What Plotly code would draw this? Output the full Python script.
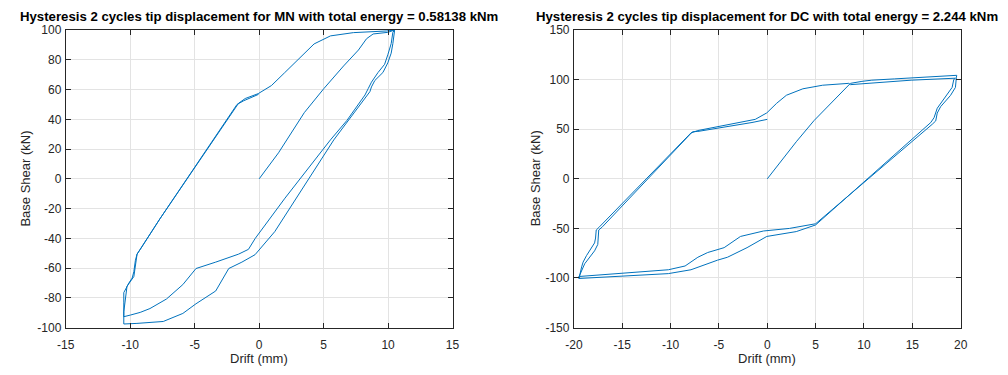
import plotly.graph_objects as go

# ---------------- MN specimen (left) ----------------
mn_drift = [
    # initial loading
    0.0, 1.5, 3.5, 5.02, 6.55, 7.7, 8.33, 8.84, 9.98, 10.5,
    # first unloading (outer right branch + outer bottom)
    10.5, 10.37, 10.24, 9.98, 9.6, 8.97, 8.71, 8.59, 5.79, 1.21, -0.32, -1.34, -2.36,
    -3.37, -4.9, -5.92, -7.44, -9.48, -10.5,
    # reloading (left branch A + upper curve)
    -10.5, -10.5, -10.1, -9.85, -9.72, -9.6, -9.47, -7.7, -1.6, -1.08, -0.07, 0.95,
    1.97, 3.24, 4.26, 5.53, 7.31, 9.86, 10.5,
    # second unloading (inner right branch + inner bottom)
    10.37, 10.24, 9.98, 9.73, 9.22, 8.71, 8.46, 8.21, 6.8, 5.53, 2.0, -0.3, -0.83,
    -1.59, -3.37, -4.9, -5.92, -7.19, -8.47, -9.23, -9.99, -10.5,
    # second reloading (left branch B), ends near zero drift
    -10.5, -10.25, -9.72, -9.6, -9.47, -9.22, -7.7, -1.72, -1.2, -0.05,
]
mn_shear = [
    0.0, 17.5, 44.5, 60.7, 75.9, 86.6, 94.2, 97.4, 98.5, 100.0,
    99.5, 90.9, 84.5, 78.0, 71.5, 66.1, 61.8, 58.6, 26.2, -35.5, -51.0, -56.0, -60.3,
    -75.4, -84.0, -90.5, -95.9, -97.2, -97.6,
    -82.9, -76.5, -70.0, -66.7, -62.4, -54.8, -50.6, -26.9, 50.8, 54.0, 57.3, 62.7,
    71.3, 82.1, 90.7, 96.1, 98.3, 99.4, 100.0,
    98.5, 90.9, 83.4, 77.0, 71.5, 65.0, 60.7, 56.4, 39.2, 26.2, -13.0, -40.0, -47.4,
    -50.6, -56.0, -60.3, -71.1, -80.8, -87.2, -89.8, -91.6, -92.7,
    -89.4, -72.2, -65.7, -59.2, -50.6, -47.4, -26.9, 50.0, 52.5, 56.8,
]

# ---------------- DC specimen (right) ----------------
dc_drift = [
    # initial loading + upper top line
    0.0, 3.0, 4.83, 8.6, 9.79, 10.81, 13.18, 16.57, 19.46, 19.6,
    # first unloading (outer right branch + upper bottom line)
    19.56, 19.46, 18.95, 17.93, 17.58, 17.42, 17.07, 5.0, 2.3, -0.39, -2.77, -4.46,
    -6.16, -7.18, -8.5, -10.23, -19.49,
    # reloading (left branch 1 + middle upper curve + lower top line)
    -19.46, -19.2, -19.05, -18.7, -18.19, -17.86, -17.76, -17.69, -17.35, -13.62,
    -7.9, -7.18, -3.79, -1.24, -0.05, 0.97, 1.98, 3.68, 5.72, 8.43, 8.6, 11.48, 14.88,
    19.46,
    # second unloading (inner right branch + lower bottom line)
    19.29, 19.12, 18.44, 17.58, 17.25, 16.91, 5.0, 3.0, -0.05, -2.09, -4.12, -5.14,
    -7.89, -10.23, -19.49,
    # second reloading (left branch 2 + middle lower curve), ends at zero drift
    -19.39, -18.88, -18.37, -17.86, -17.53, -17.46, -17.43, -17.05, -13.46, -7.73,
    -7.18, -3.79, -1.58, 0.0,
]
dc_shear = [
    0.0, 37.4, 58.7, 96.3, 98.3, 99.5, 100.8, 102.7, 104.4, 104.4,
    102.5, 92.2, 84.1, 72.8, 66.3, 58.4, 55.1, -45.3, -50.0, -52.6, -58.1, -69.4,
    -74.3, -79.1, -87.9, -91.7, -98.5,
    -100.2, -88.8, -84.0, -77.5, -69.4, -64.6, -59.7, -51.6, -48.4, -11.2,
    46.2, 48.7, 55.1, 60.0, 66.5, 76.2, 84.3, 90.8, 94.4, 96.3, 95.0, 97.3, 99.5,
    101.5,
    100.2, 92.2, 82.5, 71.2, 61.7, 56.8, -46.5, -53.2, -58.1, -69.4, -79.1, -82.0,
    -91.7, -95.6, -100.5,
    -96.9, -85.6, -79.1, -72.6, -66.2, -59.7, -51.6, -48.4, -11.2, 47.5,
    47.8, 52.9, 56.8, 60.0,
]

# tick values / labels
mn_xticks = [-15, -10, -5, 0, 5, 10, 15]
mn_yticks = [-100, -80, -60, -40, -20, 0, 20, 40, 60, 80, 100]
dc_xticks = [-20, -15, -10, -5, 0, 5, 10, 15, 20]
dc_yticks = [-150, -100, -50, 0, 50, 100, 150]

mn_title = "Hysteresis 2 cycles tip displacement for MN with total energy = 0.58138 kNm"
dc_title = "Hysteresis 2 cycles tip displacement for DC with total energy = 2.244 kNm"
x_label = "Drift (mm)"
y_label = "Base Shear (kN)"

LINE = "#0072BD"
AX = "#262626"
GRID = "#e3e3e3"
FONT = "Liberation Sans, Arial, sans-serif"


def lbl(vals):
    return [str(v) for v in vals]


fig = go.Figure()
fig.add_trace(go.Scatter(x=mn_drift, y=mn_shear, mode="lines",
                         line=dict(color=LINE, width=1), xaxis="x", yaxis="y",
                         showlegend=False, hoverinfo="skip"))
fig.add_trace(go.Scatter(x=dc_drift, y=dc_shear, mode="lines",
                         line=dict(color=LINE, width=1), xaxis="x2", yaxis="y2",
                         showlegend=False, hoverinfo="skip"))

W, H = 1008, 375
ydom = [1 - 333 / H, 1 - 24 / H]
xdom1 = [57.7 / W, 450.7 / W]
xdom2 = [574 / W, 967 / W]

common = dict(showline=True, linecolor=AX, linewidth=1, mirror="ticks",
              ticks="inside", ticklen=5, tickcolor=AX, tickwidth=1,
              showgrid=True, gridcolor=GRID, gridwidth=1, zeroline=False,
              tickfont=dict(family=FONT, size=12, color=AX))

fig.update_layout(
    width=W, height=H,
    margin=dict(l=0, r=0, t=0, b=0),
    paper_bgcolor="white", plot_bgcolor="white",
    font=dict(family=FONT, color=AX),
    xaxis=dict(domain=xdom1, range=[-15, 15], tickvals=mn_xticks, ticktext=lbl(mn_xticks),
               anchor="y", ticklabelstandoff=6, **common),
    yaxis=dict(domain=ydom, range=[-100, 100], tickvals=mn_yticks, ticktext=lbl(mn_yticks),
               anchor="x", ticklabelstandoff=1, **common),
    xaxis2=dict(domain=xdom2, range=[-20, 20], tickvals=dc_xticks, ticktext=lbl(dc_xticks),
                anchor="y2", ticklabelstandoff=6, **common),
    yaxis2=dict(domain=ydom, range=[-150, 150], tickvals=dc_yticks, ticktext=lbl(dc_yticks),
                anchor="x2", ticklabelstandoff=1, **common),
)

for dom, txt, ylx in ((xdom1, mn_title, 17), (xdom2, dc_title, 535)):
    cx = (dom[0] + dom[1]) / 2
    fig.add_annotation(text="<b>" + txt + "</b>", xref="paper", yref="paper",
                       x=cx, y=1 - 20 / H, xanchor="center",
                       yanchor="bottom", showarrow=False,
                       font=dict(family=FONT, size=13.2, color="black"))
    fig.add_annotation(text=x_label, xref="paper", yref="paper",
                       x=cx, y=1 - 374 / H, xanchor="center", yanchor="bottom",
                       showarrow=False, borderpad=0,
                       font=dict(family=FONT, size=13, color=AX))
    fig.add_annotation(text=y_label, xref="paper", yref="paper",
                       x=ylx / W, y=(ydom[0] + ydom[1]) / 2, xanchor="center",
                       yanchor="middle", textangle=-90, showarrow=False,
                       font=dict(family=FONT, size=13, color=AX))

fig.write_html("out.html")
